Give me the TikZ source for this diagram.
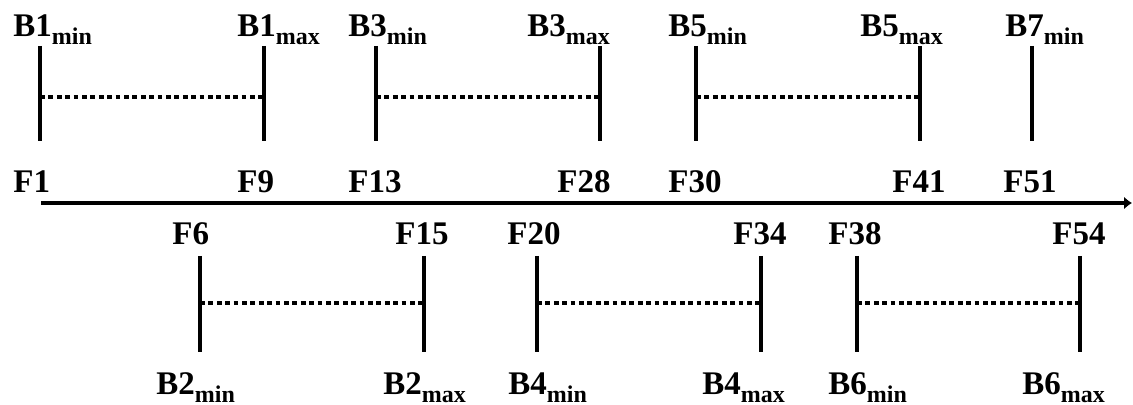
\documentclass[tikz,border=0pt]{standalone}
\usepackage{fontspec}
\setmainfont{Liberation Serif}
\usetikzlibrary{arrows.meta}
\newcommand{\sublab}[2]{#1\raisebox{-4pt}{\fontsize{12}{12}\selectfont #2}}
\begin{document}
\begin{tikzpicture}[x=0.5pt,y=-0.5pt,
    bar/.style={line width=2.4pt},
    gap/.style={line width=1.9pt,dash pattern=on 2.4pt off 1.8pt},
    lab/.style={anchor=base west,inner sep=0pt,font=\bfseries\fontsize{16.5}{16.5}\selectfont}]
  \useasboundingbox (0,0) rectangle (1133,405);
  % time axis
  \coordinate (ax0) at (41,203);
  \coordinate (ax1) at (1132,203);
  \draw[bar,-{Latex[length=4pt,width=6.5pt]}] (ax0) -- (ax1);
  % bounds with their ranges
  \foreach \n/\xa/\xb/\ya/\yb/\ym in {1/40/264/46/141/97, 2/200/424/256/352/303,
      3/376/600/46/141/97, 4/537/761/256/352/303, 5/696/920/46/141/97,
      6/857/1080/256/352/303} {
    \coordinate (min\n) at (\xa,\ym);
    \coordinate (max\n) at (\xb,\ym);
    \draw[bar] (\xa,\ya) -- (\xa,\yb) (\xb,\ya) -- (\xb,\yb);
    \draw[gap] (min\n) -- (max\n);
  }
  \coordinate (min7a) at (1032,46);
  \coordinate (min7b) at (1032,141);
  \draw[bar] (min7a) -- (min7b);
  % labels
  \foreach \b/\s/\x in {B1/min/13, B1/max/237, B3/min/348, B3/max/527,
      B5/min/668, B5/max/860, B7/min/1005}
    \node[lab] (l\b\s) at (\x,37) {\sublab{\b}{\s}};
  \foreach \b/\s/\x in {B2/min/156, B2/max/383, B4/min/508, B4/max/702,
      B6/min/828, B6/max/1022}
    \node[lab] (l\b\s) at (\x,394) {\sublab{\b}{\s}};
  \foreach \f/\x in {F1/13, F9/237, F13/348, F28/557, F30/668, F41/892, F51/1003}
    \node[lab] (l\f) at (\x,193) {\f};
  \foreach \f/\x in {F6/172, F15/395, F20/507, F34/733, F38/828, F54/1052}
    \node[lab] (l\f) at (\x,245) {\f};
\end{tikzpicture}
\end{document}
